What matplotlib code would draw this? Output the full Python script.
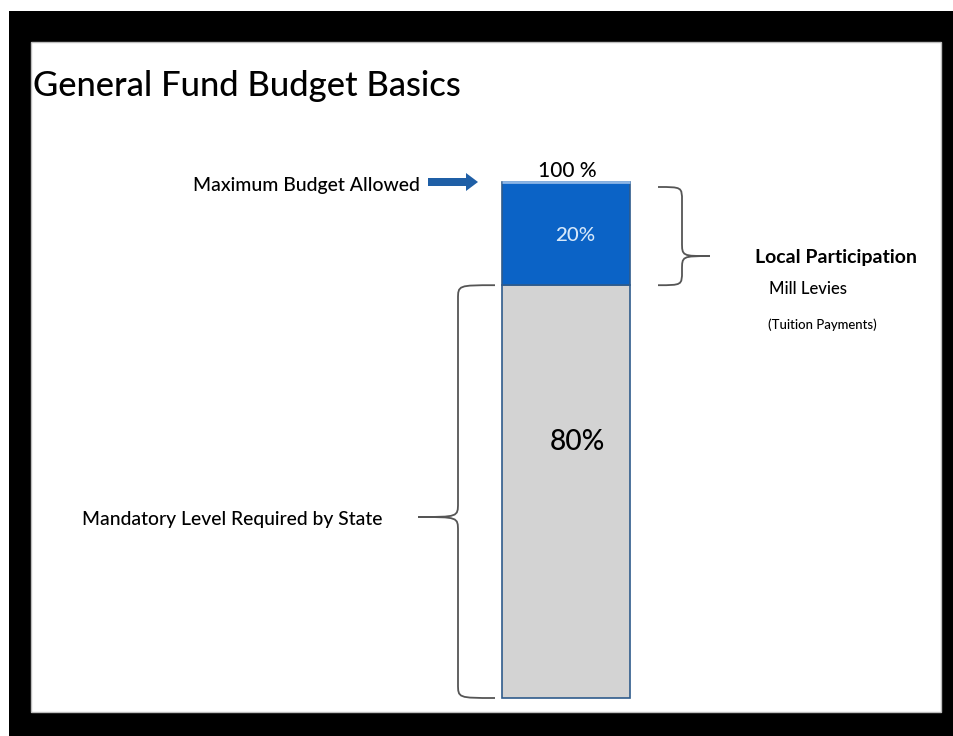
import matplotlib
matplotlib.use("Agg")
import matplotlib.pyplot as plt
from matplotlib.patches import Rectangle, Polygon, PathPatch
from matplotlib.path import Path
from matplotlib.transforms import IdentityTransform

# ---- data -------------------------------------------------------------
segment_names = ["Mandatory Level Required by State", "Local Participation"]
segment_shares = [80, 20]
segment_labels = ["80%", "20%"]
total_share = sum(segment_shares)
total_label = f"{total_share} %"
title = "General Fund Budget Basics"
max_label = "Maximum Budget Allowed"
local_sub1 = "Mill Levies"
local_sub2 = "(Tuition Payments)"

# ---- figure -----------------------------------------------------------
W, H, DPI = 954, 736, 100
FONT = "Lato"
plt.rcParams["font.family"] = [FONT, "DejaVu Sans"]

fig = plt.figure(figsize=(W / DPI, H / DPI), dpi=DPI, facecolor="white")


def fx(x):
    return x / W


def fy(y):
    return 1 - y / H


# black frame with the white slide inside
fig.patches.append(Rectangle((fx(9), fy(736)), fx(954) - fx(9), fy(11) - fy(736),
                             transform=fig.transFigure, facecolor="black",
                             edgecolor="none", zorder=0))
fig.patches.append(Rectangle((fx(31), fy(712)), fx(941) - fx(31), fy(42) - fy(712),
                             transform=fig.transFigure, facecolor="white",
                             edgecolor="#bdbdbd", linewidth=1.0, zorder=0.5))

# axes holding the stacked column: x in pixel units, y in percent
ax = fig.add_axes([0, fy(698), 1, fy(182) - fy(698)])
ax.set_zorder(1)
ax.set_xlim(0, W)
ax.set_ylim(0, total_share)
ax.axis("off")
ax.patch.set_alpha(0)

BAR_X, BAR_W = 566, 128
GRAY, BLUE, EDGE = "#d3d3d3", "#0b63c6", "#2f5b8c"

bottoms = [0]
for s in segment_shares[:-1]:
    bottoms.append(bottoms[-1] + s)
colors = [GRAY, BLUE]
for share, bottom, c in zip(segment_shares, bottoms, colors):
    bars = ax.bar(BAR_X, share, width=BAR_W, bottom=bottom, color=c,
                  edgecolor=EDGE, linewidth=1.2, zorder=2)
    for b in bars:
        b.set_clip_on(False)
# light rim on top of the column
ax.plot([BAR_X - BAR_W / 2, BAR_X + BAR_W / 2], [total_share, total_share],
        color="#8db6e6", linewidth=2.0, zorder=3, solid_capstyle="butt",
        clip_on=False)

renderer = fig.canvas.get_renderer()


def text_px(x, y, s, width=None, size=12, **kw):
    kw.setdefault("fontweight", "medium")
    t = fig.text(fx(x), fy(y), s, fontsize=size, zorder=5, **kw)
    if width is not None:
        w = t.get_window_extent(renderer).width
        t.set_fontsize(size * width / w)
    return t


def to_px(x, y):
    """data -> image pixel (origin top-left)"""
    dx, dy = ax.transData.transform((x, y))
    return dx, H - dy


# segment value labels
bx, by = to_px(BAR_X, bottoms[1] + segment_shares[1] / 2)
text_px(bx + 9, by + 2, segment_labels[1], width=40, size=11,
        color="#d6e8fa", ha="center", va="center")
bx, by = to_px(BAR_X, bottoms[0] + segment_shares[0] * 0.62)
text_px(bx + 11, by, segment_labels[0], width=55, size=20,
        color="black", ha="center", va="center")
tx, ty = to_px(BAR_X, total_share)
text_px(tx + 1, ty - 11, total_label, width=58, size=13,
        color="black", ha="center", va="center")

# title and annotations
text_px(33, 86, title, width=430, size=26, ha="left", va="center")
text_px(193, 185, max_label, width=226, size=13, ha="left", va="center")
text_px(82, 519, segment_names[0], width=300, size=13, ha="left", va="center")
text_px(755, 257, segment_names[1], width=161, size=13, ha="left",
        va="center", fontweight="bold")
text_px(769, 289, local_sub1, width=78, size=11, ha="left", va="center")
text_px(768, 325, local_sub2, width=109, size=8, ha="left", va="center")

# block arrow pointing at the top of the column
_, ay = to_px(BAR_X, total_share)
arrow = [(428, ay - 4), (466, ay - 4), (466, ay - 9), (478, ay),
         (466, ay + 9), (466, ay + 4), (428, ay + 4)]
fig.patches.append(Polygon([(fx(x), fy(y)) for x, y in arrow], closed=True,
                           transform=fig.transFigure, facecolor="#1f5fa6",
                           edgecolor="none", zorder=3))


def brace(x_spine, x_hook, x_tip, y_top, y_bot, y_tip, r=14):
    """curly brace in image pixels; hooks at x_hook, point at x_tip"""
    P = [
        (x_hook, y_top),
        (x_spine, y_top), (x_spine, y_top), (x_spine, y_top + r),
        (x_spine, y_tip - r),
        (x_spine, y_tip), (x_spine, y_tip), (x_tip, y_tip),
        (x_spine, y_tip), (x_spine, y_tip), (x_spine, y_tip + r),
        (x_spine, y_bot - r),
        (x_spine, y_bot), (x_spine, y_bot), (x_hook, y_bot),
    ]
    codes = [Path.MOVETO,
             Path.CURVE4, Path.CURVE4, Path.CURVE4,
             Path.LINETO,
             Path.CURVE4, Path.CURVE4, Path.CURVE4,
             Path.CURVE4, Path.CURVE4, Path.CURVE4,
             Path.LINETO,
             Path.CURVE4, Path.CURVE4, Path.CURVE4]
    verts = [(x, H - y) for x, y in P]
    fig.patches.append(PathPatch(Path(verts, codes), transform=IdentityTransform(),
                                 facecolor="none", edgecolor="#555555",
                                 linewidth=1.3, zorder=3))


# left brace spanning the mandatory share
_, yb0 = to_px(BAR_X, bottoms[0])
_, yb1 = to_px(BAR_X, bottoms[0] + segment_shares[0])
brace(458, 495, 418, yb1, yb0, 517)
# right brace spanning the local share
_, yr0 = to_px(BAR_X, bottoms[1])
_, yr1 = to_px(BAR_X, total_share)
brace(682, 658, 710, yr1 + 5, yr0, (yr0 + yr1 + 5) / 2 + 20)

fig.savefig("out.png", dpi=DPI, facecolor=fig.get_facecolor())
